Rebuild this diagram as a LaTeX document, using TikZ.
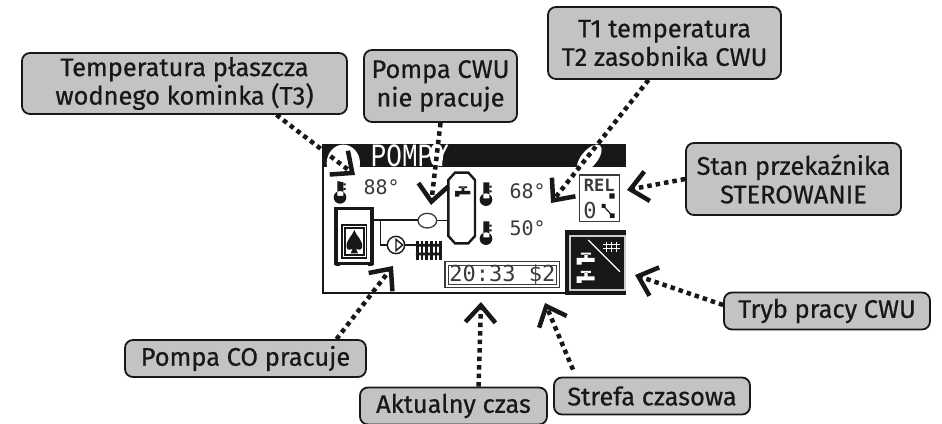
\documentclass[tikz,border=0pt]{standalone}
\usepackage{fontspec}
\setmainfont[FakeBold=0.6]{Fira Sans}
\newfontfamily\lcdfont{DejaVu Sans Mono}
\newfontfamily\titlefont{Liberation Mono}
\usetikzlibrary{arrows.meta}
\definecolor{boxgray}{HTML}{C3C3C3}
\definecolor{inkblack}{HTML}{1A1718}
\definecolor{lcdgray}{HTML}{3A3A3A}
\tikzset{
	callout/.style={draw=inkblack,line width=1.8pt,fill=boxgray,rounded corners=8pt,
		align=center,inner sep=0pt,font=\fontsize{25.4}{28.5}\selectfont,text=inkblack},
	pointer/.style={draw=inkblack,line width=4.5pt,dash pattern=on 4.5pt off 4pt,
		-{Straight Barb[length=17pt,width=30pt,line width=4.5pt]}},
	lcdtext/.style={inner sep=0pt,font=\lcdfont\fontsize{20}{20}\selectfont,text=lcdgray},
	thermo/.pic={
		\fill[inkblack] (-8,-38) rectangle (10,10) (0,14) circle (19);
		\fill[inkblack] (10,-28) rectangle (17,-22) (10,-14) rectangle (17,-8);
	},
	tapicon/.pic={
		\path[pic actions] (-27,-6) rectangle (27,6) (-27,-6) rectangle (-12,14)
			(-4,-6) rectangle (6,-18) (-14,-22) rectangle (16,-16);
	}
}
\begin{document}
\begin{tikzpicture}[x=1pt,y=-1pt]
\useasboundingbox (0,0) rectangle (942,423);
% display, coordinates of the zoomed crop
\begin{scope}[shift={(310,130)},x=0.3333pt,y=-0.3333pt]
\fill[inkblack] (40,42) rectangle (948,110);
\draw[inkblack,line width=2.2pt] (40,42) -- (40,490) -- (765,490);
\fill[inkblack] (765,300) rectangle (948,495);
\draw[white!80!black,line width=1.3pt] (780,318) rectangle (945,480);
% stove and pipes
\draw[inkblack,line width=3.5pt] (78,236) rectangle (186,400);
\draw[inkblack,line width=1.3pt] (96,285) rectangle (170,384);
\draw[inkblack,line width=1.3pt] (105,294) rectangle (162,375);
\fill[inkblack] (133,300) .. controls (138,318) and (160,330) .. (156,352)
	.. controls (154,362) and (146,360) .. (138,356) -- (144,370) -- (122,370) -- (128,356)
	.. controls (120,360) and (112,362) .. (110,352)
	.. controls (106,330) and (128,318) .. (133,300);
\fill[inkblack] (76,400) rectangle (90,408) (174,400) rectangle (188,408);
\draw[inkblack,line width=1.4pt] (190,270) -- (325,270) (380,272) -- (415,272);
\draw[inkblack,line width=1.4pt] (212,270) -- (212,345) -- (232,345) (285,345) -- (320,345);
\draw[lcdgray,line width=1.3pt] (352,272) ellipse (28 and 22);
\draw[inkblack,line width=1.4pt] (258,345) circle (26);
\draw[inkblack,line width=1.4pt] (258,328) -- (258,362) -- (278,345) -- cycle;
\foreach \finx in {322,336,350,364,378,392}
	\fill[inkblack] (\finx-4,332) rectangle (\finx+4,390);
\fill[inkblack] (318,342) rectangle (396,350) (318,368) rectangle (396,376);
% tank
\draw[inkblack,line width=2.4pt] (435,128) -- (475,128) -- (495,150) -- (495,318) -- (475,340)
	-- (435,340) -- (415,318) -- (415,150) -- cycle;
\pic[fill=inkblack,scale=0.85] at (458,188) {tapicon};
% readings
\pic at (90,188) {thermo};
\pic at (528,195) {thermo};
\pic at (528,312) {thermo};
\node[lcdtext,anchor=west] (t3read) at (160,172) {88°};
\node[lcdtext,anchor=west] (t1read) at (598,185) {68°};
\node[lcdtext,anchor=west] (t2read) at (598,295) {50°};
\node[lcdtext,anchor=west,text=white,yscale=1.25,transform shape,font=\titlefont\fontsize{26}{26}\selectfont] (title) at (182,77) {POMPY};
% clock
\draw[lcdgray,line width=1.2pt] (405,395) rectangle (748,472);
\draw[lcdgray,line width=0.8pt] (415,405) rectangle (740,463);
\node[lcdtext,font=\lcdfont\fontsize{22}{22}\selectfont] (clock) at (577,435) {20:33 \$2};
% relay
\draw[lcdgray,line width=1.2pt] (808,135) rectangle (928,275);
\node[lcdtext,font=\lcdfont\bfseries\fontsize{17}{17}\selectfont] (rel) at (868,166) {REL};
\node[lcdtext,font=\lcdfont\fontsize{22}{22}\selectfont] (relzero) at (840,240) {0};
\fill[inkblack] (898,190) rectangle (914,206) (875,222) rectangle (887,234) (900,250) rectangle (914,264);
\draw[inkblack,line width=1.2pt] (880,228) -- (907,257);
% mode icon
\draw[white,line width=1.3pt] (835,330) -- (930,425);
\foreach \gridx in {890,905,920}
	\draw[white,line width=1.5pt] (\gridx,335) -- (\gridx,365);
\foreach \gridy in {343,356}
	\draw[white,line width=1.5pt] (880,\gridy) -- (930,\gridy);
\pic[fill=white] at (827,390) {tapicon};
\pic[fill=white] at (827,445) {tapicon};
% white patches round the pointers
\fill[white] (100,100) ellipse (50 and 56);
\fill[white] (380,75) ellipse (20 and 36);
\fill[white,rotate around={50:(838,85)}] (838,85) ellipse (50 and 24);
\end{scope}
% callouts
\node[callout,minimum width=325pt,minimum height=61pt] (t3box) at (184.5,83.5) {Temperatura płaszcza\\wodnego kominka (T3)};
\node[callout,minimum width=153pt,minimum height=72pt] (cwubox) at (440.5,86) {Pompa CWU\\nie pracuje};
\node[callout,minimum width=233pt,minimum height=72pt] (tempbox) at (664.5,43) {T1 temperatura\\T2 zasobnika CWU};
\node[callout,minimum width=215pt,minimum height=72pt] (relbox) at (793.5,179) {Stan przekaźnika\\STEROWANIE};
\node[callout,minimum width=206pt,minimum height=37pt] (modebox) at (827,311) {Tryb pracy CWU};
\node[callout,minimum width=241pt,minimum height=37pt] (cobox) at (245.5,358.5) {Pompa CO pracuje};
\node[callout,minimum width=187pt,minimum height=37pt] (timebox) at (453.5,406) {Aktualny czas};
\node[callout,minimum width=196pt,minimum height=37pt] (zonebox) at (652,396) {Strefa czasowa};
% pointers
\coordinate (t3tip) at (355,175);
\coordinate (cwutip) at (431,205);
\coordinate (temptip) at (551,203);
\coordinate (reltip) at (627,190);
\coordinate (modetip) at (635,275);
\coordinate (cotip) at (393,266);
\coordinate (timetip) at (481,302);
\coordinate (zonetip) at (545,303);
\draw[pointer] ([xshift=92pt]t3box.south) -- (t3tip);
\draw[pointer] (cwubox.south) -- (cwutip);
\draw[pointer] ([xshift=-16pt]tempbox.south) -- (temptip);
\draw[pointer] (relbox.west) -- (reltip);
\draw[pointer] ([yshift=6pt]modebox.west) -- (modetip);
\draw[pointer] ([xshift=91pt]cobox.north) -- (cotip);
\draw[pointer] ([xshift=25pt]timebox.north) -- (timetip);
\draw[pointer] ([xshift=-79pt,yshift=7pt]zonebox.north) -- (zonetip);
\end{tikzpicture}
\end{document}
